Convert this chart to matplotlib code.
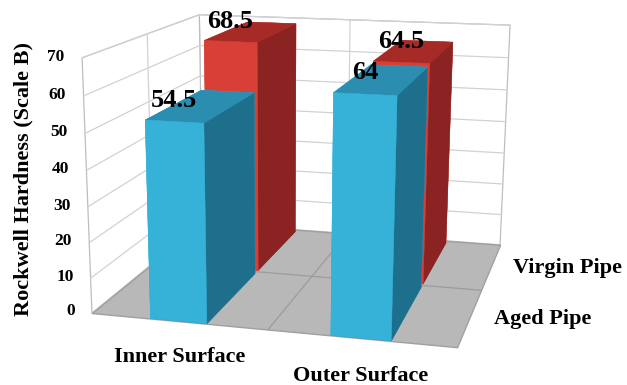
import numpy as np
import matplotlib.pyplot as plt
from mpl_toolkits.mplot3d.art3d import Poly3DCollection

surfaces = ['Inner Surface', 'Outer Surface']
pipes = ['Aged Pipe', 'Virgin Pipe']
aged = [54.5, 64]
virgin = [68.5, 64.5]
z_ticks = [0, 10, 20, 30, 40, 50, 60, 70]

plt.rcParams['font.family'] = ['Liberation Serif', 'DejaVu Serif']
plt.rcParams['font.weight'] = 'bold'

fig = plt.figure(figsize=(6.27, 3.85), dpi=100)
# big square 3D axes; the camera looks at the middle of the limits below
ax = fig.add_axes([0.0175, -0.2883, 0.8293, 1.3506], projection='3d')
ax.set_axis_off()
ax.patch.set_alpha(0)
ax.computed_zorder = False
ax.set_xticks([])
ax.set_yticks([])
ax.set_zticks([])

ax.set_xlim(0.331 - 1, 0.331 + 1)
ax.set_ylim(0.849 - 1, 0.849 + 1)
ax.set_zlim(15.9 - 35, 15.9 + 35)
ax.set_box_aspect((2.0, 1.92, 1.40), zoom=1.0)
ax.set_proj_type('persp', focal_length=0.49)
ax.view_init(elev=15.7, azim=-74.7)

x0, x1 = -0.5, len(surfaces) - 0.5
y0, y1 = 0, len(pipes)
ztop = z_ticks[-1]

# floor and walls
floor = [[(x0, y0, 0), (x1, y0, 0), (x1, y1, 0), (x0, y1, 0)]]
walls = [[(x0, y0, 0), (x0, y1, 0), (x0, y1, ztop), (x0, y0, ztop)],
         [(x0, y1, 0), (x1, y1, 0), (x1, y1, ztop), (x0, y1, ztop)]]
ax.add_collection3d(Poly3DCollection(walls, facecolor='white', edgecolor='#bdbdbd',
                                     linewidth=0.9, zorder=1))
ax.add_collection3d(Poly3DCollection(floor, facecolor='#b8b8b8', edgecolor='#a0a0a0',
                                     linewidth=1.0, zorder=1))

# gridlines on walls and floor
for t in z_ticks[1:]:
    ax.plot([x0, x0, x1], [y0, y1, y1], [t, t, t], color='#d2d2d2', lw=0.9, zorder=1.5)
for j in range(1, len(pipes)):
    ax.plot([x0, x0], [j, j], [0, ztop], color='#d2d2d2', lw=0.9, zorder=1.5)
    ax.plot([x0, x1], [j, j], [0, 0], color='#9c9c9c', lw=0.9, zorder=1.5)
for i in range(1, len(surfaces)):
    xb = i - 0.5
    ax.plot([xb, xb], [y1, y1], [0, ztop], color='#d2d2d2', lw=0.9, zorder=1.5)
    ax.plot([xb, xb], [y0, y1], [0, 0], color='#9c9c9c', lw=0.9, zorder=1.5)

# face colours in bar3d order: -z, +z, -y, +y, -x, +x
blue_faces = ['#2b8fb0', '#2b8db0', '#36b1d8', '#36b1d8', '#36b1d8', '#1e6f8b']
red_faces = ['#a82b27', '#a62b27', '#d73f37', '#d73f37', '#d73f37', '#8a2321']

bw = 0.32
for i in range(len(surfaces)):
    ax.bar3d(i - bw / 2, 1.03, 0, bw, 0.92, virgin[i], color=red_faces,
             edgecolor=red_faces, linewidth=0.3, shade=False, zorder=2)
for i in range(len(surfaces)):
    ax.bar3d(i - bw / 2, 0.0, 0, bw, 0.96, aged[i], color=blue_faces,
             edgecolor=blue_faces, linewidth=0.3, shade=False, zorder=3)

# value labels at the front top of each bar
for i in range(len(surfaces)):
    ax.text(i, 0.0, aged[i] + 2.5, f'{aged[i]:g}', ha='center', va='bottom',
            fontsize=19, fontweight='bold', zorder=5)
    ax.text(i, 1.03, virgin[i] + 2.5, f'{virgin[i]:g}', ha='center', va='bottom',
            fontsize=19, fontweight='bold', zorder=5)

# value axis ticks along the front-left edge
for t in z_ticks:
    ax.text(x0 - 0.1, y0, t, str(t), ha='right', va='center', fontsize=12.5,
            fontweight='bold', zorder=5)

# category and series labels
for i, name in enumerate(surfaces):
    ax.text(i, y0, -10.4, name, ha='center', va='center', fontsize=16,
            fontweight='bold', zorder=5)
for j, name in enumerate(pipes):
    ax.text(x1 + 0.13, j + 0.5, 0, name, ha='left', va='center', fontsize=16,
            fontweight='bold', zorder=5)

fig.text(0.037, 0.535, 'Rockwell Hardness (Scale B)', rotation=90, ha='center', va='center',
         fontsize=16, fontweight='bold')

fig.savefig('out.png', dpi=100)
